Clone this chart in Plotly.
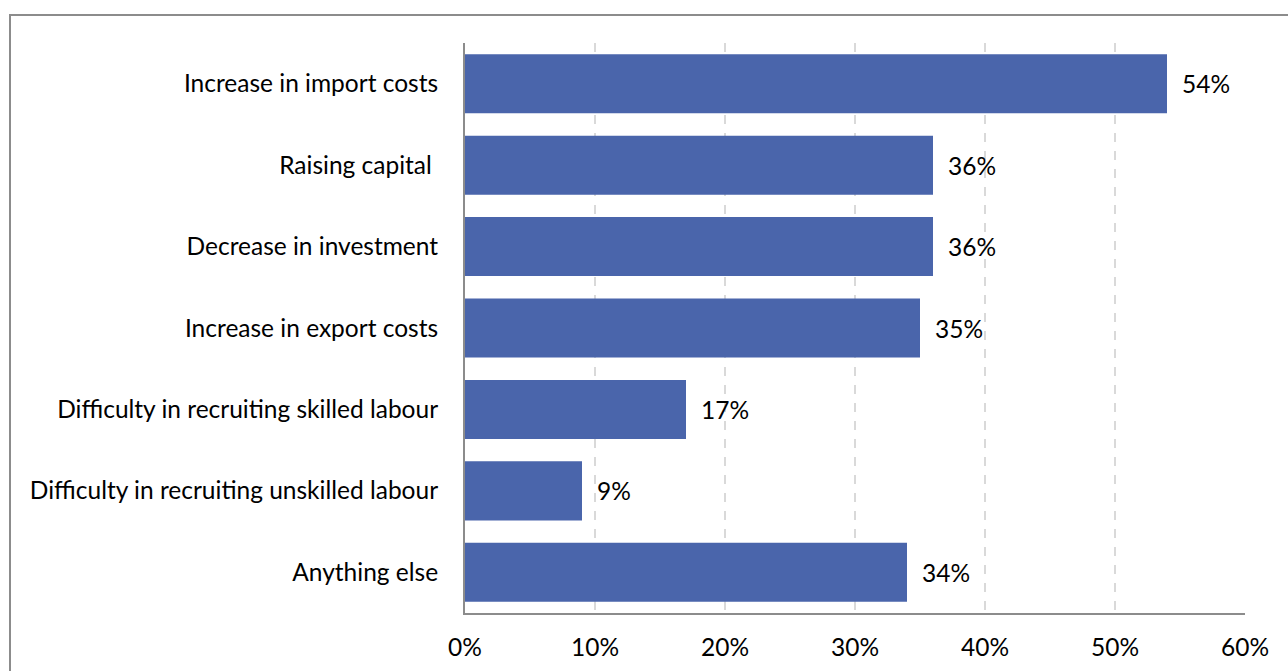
import plotly.graph_objects as go

# Survey results: share of businesses reporting each impact
categories = [
    "Increase in import costs",
    "Raising capital\u00a0",
    "Decrease in investment",
    "Increase in export costs",
    "Difficulty in recruiting skilled labour",
    "Difficulty in recruiting unskilled labour",
    "Anything else",
]
shares = [0.54, 0.36, 0.36, 0.35, 0.17, 0.09, 0.34]
x_ticks = [0, 0.1, 0.2, 0.3, 0.4, 0.5, 0.6]

W, H = 1288, 671
L, R, T, B = 465, 43, 43, 58
FONT = "Lato, 'Open Sans', sans-serif"
FS = 24.5
BAR = "#4A65AB"
AXIS = "#8C8C8C"

fig = go.Figure(
    go.Bar(
        x=shares,
        y=categories,
        orientation="h",
        marker=dict(color=BAR, line=dict(width=0)),
        hoverinfo="skip",
    )
)

# value labels placed just past each bar end
for c, v in zip(categories, shares):
    fig.add_annotation(
        x=v, y=c, xref="x", yref="y",
        text=f"{round(v * 100)}%",
        showarrow=False, xanchor="left", xshift=13,
        font=dict(family=FONT, size=FS, color="#000000"),
    )

# frame around the chart
pw, ph = W - L - R, H - T - B
fig.add_shape(
    type="rect", xref="paper", yref="paper",
    x0=(10 - L) / pw, x1=(W + 20 - L) / pw,
    y0=-(B + 20) / ph, y1=(H - B - 15) / ph,
    line=dict(color=AXIS, width=2), fillcolor="rgba(0,0,0,0)",
    layer="below",
)

fig.update_layout(
    width=W, height=H,
    margin=dict(l=L, r=R, t=T, b=B, pad=0),
    paper_bgcolor="white", plot_bgcolor="white",
    bargap=0.275,
    showlegend=False,
    font=dict(family=FONT, size=FS, color="#000000"),
    xaxis=dict(
        range=[0, 0.6],
        tickvals=x_ticks,
        tickformat=".0%",
        showgrid=True, gridcolor="#D9D9D9", gridwidth=1.5, griddash="dash",
        showline=True, linecolor=AXIS, linewidth=2,
        ticks="", ticklabelstandoff=12,
        zeroline=False, fixedrange=True, automargin=False,
    ),
    yaxis=dict(
        autorange="reversed",
        showline=True, linecolor=AXIS, linewidth=2,
        ticks="", ticklabelstandoff=20,
        showgrid=False, zeroline=False, fixedrange=True, automargin=False,
    ),
)

fig.write_html("out.html", config={"displayModeBar": False})
